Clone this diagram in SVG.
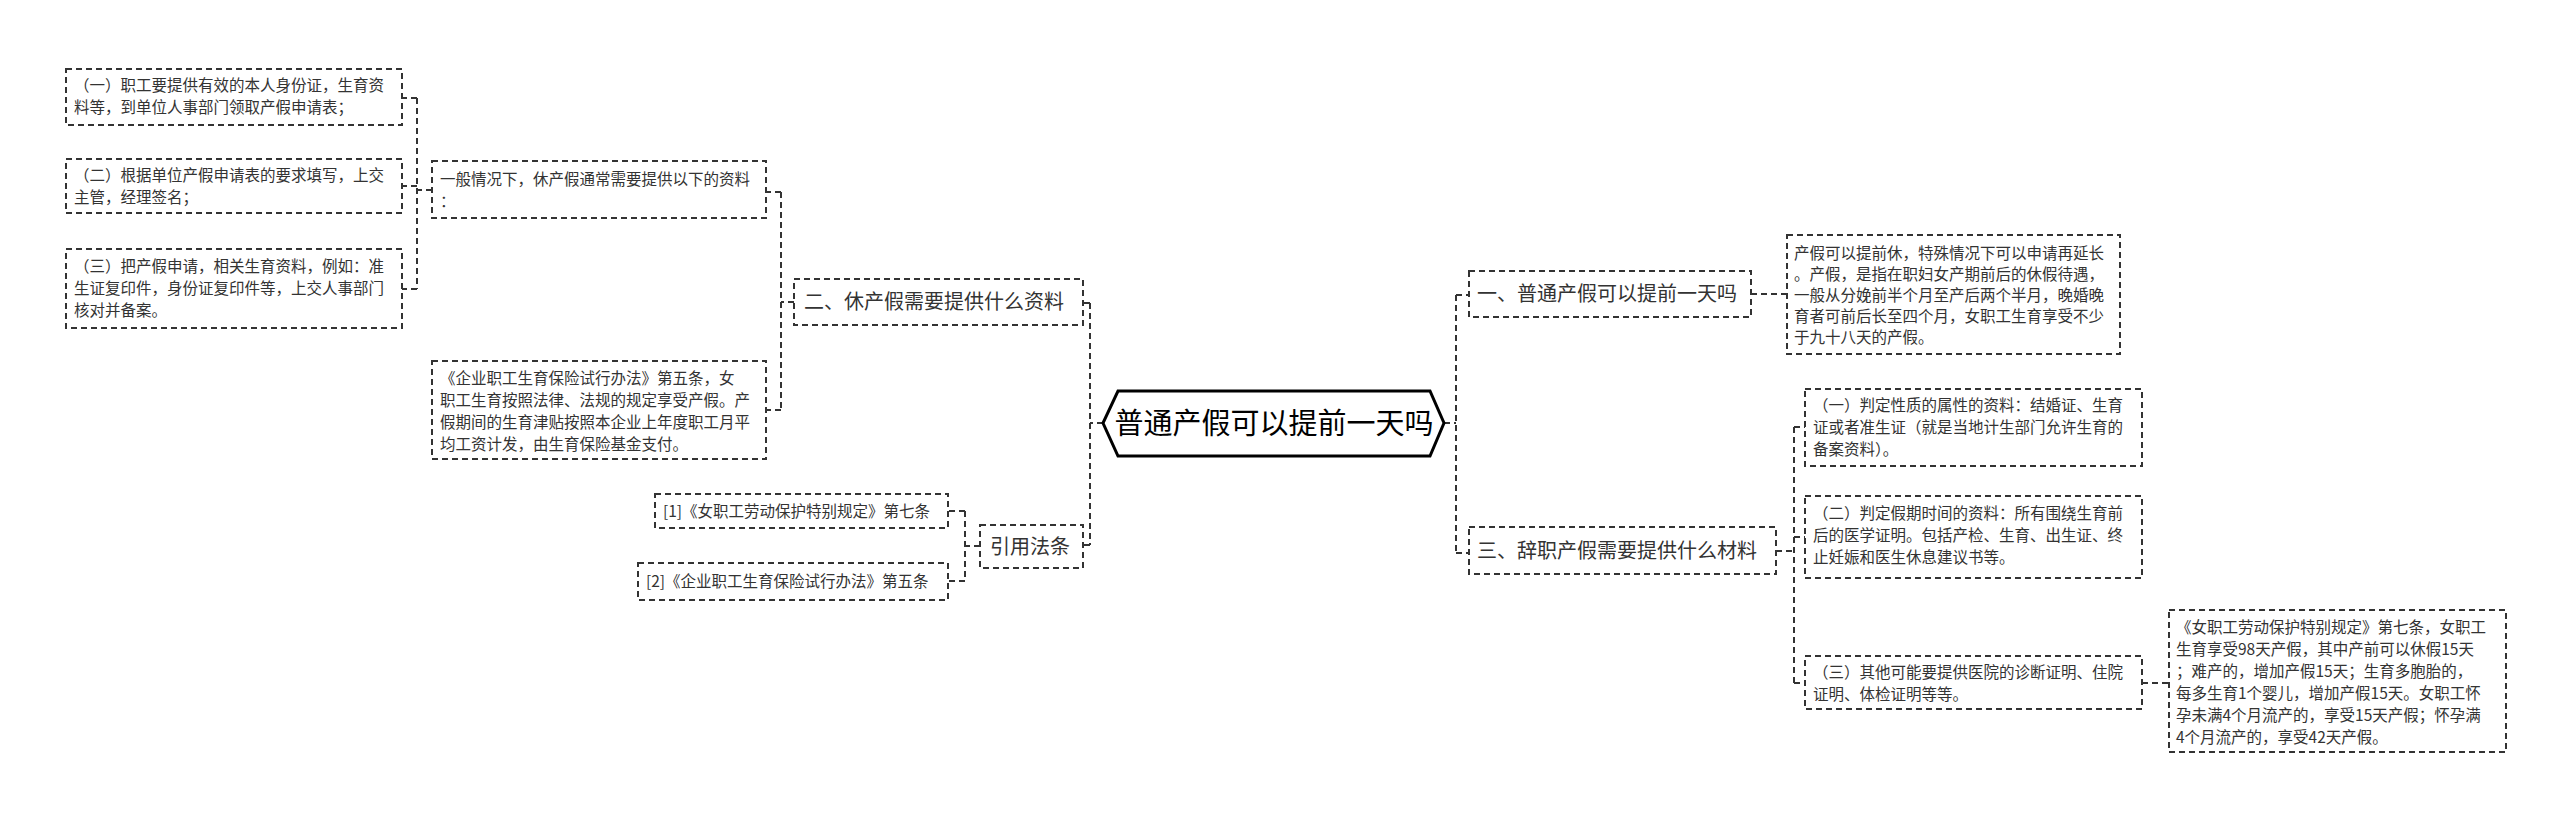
<svg xmlns="http://www.w3.org/2000/svg" width="2560" height="814" viewBox="0 0 2560 814">
<style>
.b{fill:#fff;stroke:#333;stroke-width:2;stroke-dasharray:6 4}
.t{font-family:"Noto Sans CJK SC","Liberation Sans",sans-serif;font-size:15.5px;fill:#333}
.h{font-family:"Noto Sans CJK SC","Liberation Sans",sans-serif;font-size:20px;fill:#333}
.c{fill:none;stroke:#333;stroke-width:2;stroke-dasharray:6 4}
</style>
<rect width="2560" height="814" fill="#fff"/>
<g id="connectors">
<path class="c" d="M1103 423H1090M1090 303V545M1090 303H1083M1090 545H1083"/>
<path class="c" d="M794 302H781M781 192V410M781 192H766M781 410H766"/>
<path class="c" d="M432 190H417M417 98V289M417 98H402M417 186H402M417 289H402"/>
<path class="c" d="M980 546H965M965 511V581M965 511H948M965 581H948"/>
<path class="c" d="M1444 423H1456M1456 295V553M1456 295H1469M1456 553H1469"/>
<path class="c" d="M1751 294H1787"/>
<path class="c" d="M1776 551H1794M1794 427V683M1794 427H1805M1794 537H1805M1794 683H1805"/>
<path class="c" d="M2142 683H2169"/>
</g>
<g id="center"><polygon points="1118,391 1430,391 1444,423 1430,456 1118,456 1103,423" fill="#fff" stroke="#000" stroke-width="3"/>
<text x="1274" y="434" text-anchor="middle" font-family="Noto Sans CJK SC,sans-serif" font-size="29" fill="#000">普通产假可以提前一天吗</text></g>
<g id="n2"><rect class="b" x="794" y="279" width="289" height="46"/><text class="h" x="804" y="309">二、休产假需要提供什么资料</text></g>
<g id="n2a"><rect class="b" x="432" y="161" width="334" height="57"/><text class="t" x="440" y="185">一般情况下，休产假通常需要提供以下的资料</text><text class="t" x="440" y="207">：</text></g>
<g id="b1"><rect class="b" x="66" y="69" width="336" height="56"/><text class="t" x="74" y="91">（一）职工要提供有效的本人身份证，生育资</text><text class="t" x="74" y="113">料等，到单位人事部门领取产假申请表；</text></g>
<g id="b2"><rect class="b" x="66" y="159" width="336" height="54"/><text class="t" x="74" y="181">（二）根据单位产假申请表的要求填写，上交</text><text class="t" x="74" y="203">主管，经理签名；</text></g>
<g id="b3"><rect class="b" x="66" y="249" width="336" height="79"/><text class="t" x="74" y="272">（三）把产假申请，相关生育资料，例如：准</text><text class="t" x="74" y="294">生证复印件，身份证复印件等，上交人事部门</text><text class="t" x="74" y="316">核对并备案。</text></g>
<g id="n2b"><rect class="b" x="432" y="361" width="334" height="98"/><text class="t" x="440" y="384">《企业职工生育保险试行办法》第五条，女</text><text class="t" x="440" y="406">职工生育按照法律、法规的规定享受产假。产</text><text class="t" x="440" y="428">假期间的生育津贴按照本企业上年度职工月平</text><text class="t" x="440" y="450">均工资计发，由生育保险基金支付。</text></g>
<g id="n4"><rect class="b" x="980" y="525" width="103" height="43"/><text class="h" x="990" y="554">引用法条</text></g>
<g id="r1"><rect class="b" x="655" y="494" width="293" height="34"/><text class="t" x="663" y="517">[1]《女职工劳动保护特别规定》第七条</text></g>
<g id="r2"><rect class="b" x="638" y="563" width="310" height="37"/><text class="t" x="646" y="587">[2]《企业职工生育保险试行办法》第五条</text></g>
<g id="n1"><rect class="b" x="1469" y="271" width="282" height="46"/><text class="h" x="1477" y="301">一、普通产假可以提前一天吗</text></g>
<g id="n1a"><rect class="b" x="1787" y="235" width="333" height="119"/><text class="t" x="1794" y="259">产假可以提前休，特殊情况下可以申请再延长</text><text class="t" x="1794" y="280">。产假，是指在职妇女产期前后的休假待遇，</text><text class="t" x="1794" y="301">一般从分娩前半个月至产后两个半月，晚婚晚</text><text class="t" x="1794" y="322">育者可前后长至四个月，女职工生育享受不少</text><text class="t" x="1794" y="343">于九十八天的产假。</text></g>
<g id="n3"><rect class="b" x="1469" y="527" width="307" height="47"/><text class="h" x="1477" y="558">三、辞职产假需要提供什么材料</text></g>
<g id="c1"><rect class="b" x="1805" y="389" width="337" height="77"/><text class="t" x="1813" y="411">（一）判定性质的属性的资料：结婚证、生育</text><text class="t" x="1813" y="433">证或者准生证（就是当地计生部门允许生育的</text><text class="t" x="1813" y="455">备案资料）。</text></g>
<g id="c2"><rect class="b" x="1805" y="496" width="337" height="82"/><text class="t" x="1813" y="519">（二）判定假期时间的资料：所有围绕生育前</text><text class="t" x="1813" y="541">后的医学证明。包括产检、生育、出生证、终</text><text class="t" x="1813" y="563">止妊娠和医生休息建议书等。</text></g>
<g id="c3"><rect class="b" x="1805" y="656" width="337" height="53"/><text class="t" x="1813" y="678">（三）其他可能要提供医院的诊断证明、住院</text><text class="t" x="1813" y="700">证明、体检证明等等。</text></g>
<g id="c3a"><rect class="b" x="2169" y="610" width="337" height="142"/><text class="t" x="2176" y="633">《女职工劳动保护特别规定》第七条，女职工</text><text class="t" x="2176" y="655">生育享受98天产假，其中产前可以休假15天</text><text class="t" x="2176" y="677">；难产的，增加产假15天；生育多胞胎的，</text><text class="t" x="2176" y="699">每多生育1个婴儿，增加产假15天。女职工怀</text><text class="t" x="2176" y="721">孕未满4个月流产的，享受15天产假；怀孕满</text><text class="t" x="2176" y="743">4个月流产的，享受42天产假。</text></g>
</svg>
